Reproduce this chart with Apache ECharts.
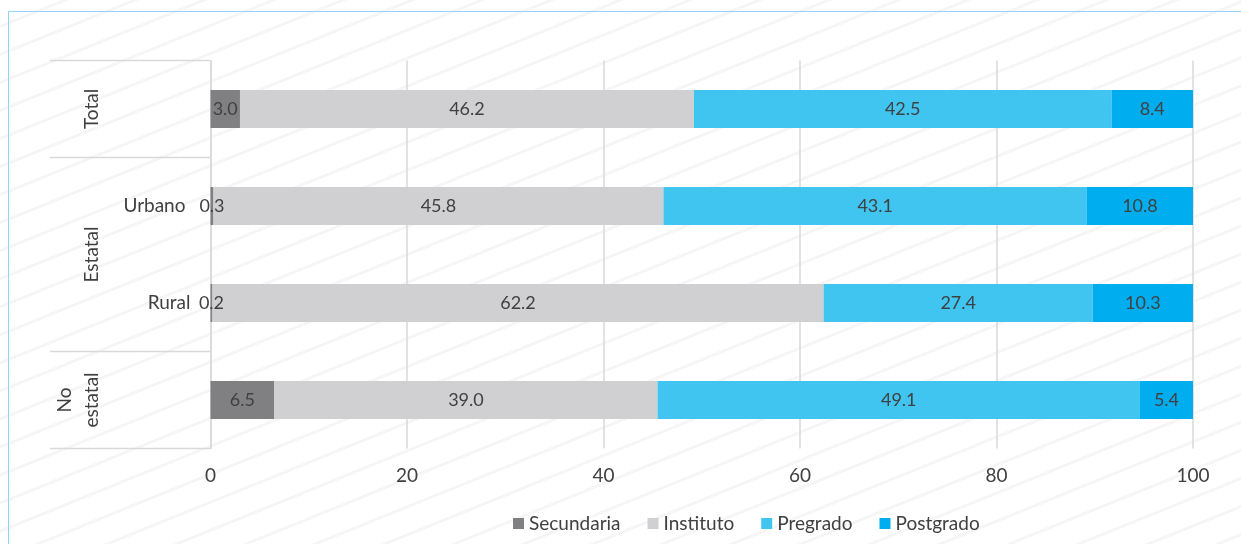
<!DOCTYPE html>
<html>
<head>
<meta charset="utf-8">
<script src="https://cdn.jsdelivr.net/npm/echarts@6/dist/echarts.min.js"></script>
<style>
html,body{margin:0;padding:0;background:#fff;}
#c{width:1241px;height:544px;background:repeating-linear-gradient(158deg, rgba(0,0,0,0) 0px, rgba(0,0,0,0) 23px, #f6f6f6 23px, #f6f6f6 26px);}
</style>
</head>
<body>
<div id="c"></div>
<script>
const categories = ['Total', 'Urbano', 'Rural', 'No estatal'];
const innerLabels = ['', 'Urbano', 'Rural', ''];
const groups = [
  {name: 'Total', from: 0, to: 0},
  {name: 'Estatal', from: 1, to: 2},
  {name: 'No\nestatal', from: 3, to: 3}
];
const seriesNames = ['Secundaria', 'Instituto', 'Pregrado', 'Postgrado'];
const secundaria = [3.0, 0.3, 0.2, 6.5];
const instituto = [46.2, 45.8, 62.2, 39.0];
const pregrado = [42.5, 43.1, 27.4, 49.1];
const postgrado = [8.4, 10.8, 10.3, 5.4];
const xTicks = [0, 20, 40, 60, 80, 100];
const colors = ['#808083', '#d0d0d2', '#40c5f1', '#00aeef'];

const FONT = 'Lato, "Open Sans", sans-serif';
const TXT = '#404040';
const chart = echarts.init(document.getElementById('c'), null, {renderer: 'canvas'});
const values = [secundaria, instituto, pregrado, postgrado];

const option = {
  animation: false,
  color: colors,
  textStyle: {fontFamily: FONT},
  grid: {left: 210.5, right: 48, top: 60.5, bottom: 95.5, containLabel: false},
  legend: {
    bottom: 6, left: 508,
    itemWidth: 11, itemHeight: 11, itemGap: 27,
    icon: 'rect',
    textStyle: {fontFamily: FONT, fontSize: 19, color: TXT},
    data: seriesNames
  },
  xAxis: {
    type: 'value', min: xTicks[0], max: xTicks[xTicks.length - 1], interval: 20,
    axisLine: {show: false}, axisTick: {show: false},
    axisLabel: {fontSize: 19, color: TXT, margin: 18, fontFamily: FONT},
    splitLine: {show: true, lineStyle: {color: '#d9d9d9', width: 1.5}}
  },
  yAxis: {
    type: 'category', data: categories, inverse: true,
    axisLine: {show: true, lineStyle: {color: '#d9d9d9', width: 1.5}},
    axisTick: {show: false},
    axisLabel: {
      fontSize: 19, color: TXT, margin: 20, fontFamily: FONT,
      formatter: function (v, i) {
        const t = innerLabels[i];
        if (!t) return '';
        return i === 1 ? '{u|' + t + '}' : t;
      },
      rich: {u: {fontSize: 19, color: TXT, fontFamily: FONT, padding: [0, 5, 0, 0]}}
    },
    splitLine: {show: false}
  },
  series: seriesNames.map((n, k) => ({
    name: n, type: 'bar', stack: 'total', barWidth: 38,
    data: values[k],
    label: {
      show: true, position: 'inside', fontSize: 18, color: TXT, fontFamily: FONT,
      formatter: p => p.value.toFixed(1)
    },
    labelLayout: {hideOverlap: false}
  }))
};
chart.setOption(option);

// hierarchical category decorations
const centers = categories.map(c => chart.convertToPixel({yAxisIndex: 0}, c));
const band = centers[1] - centers[0];
const x0 = chart.convertToPixel({xAxisIndex: 0}, 0);
const gfx = [];
gfx.push({type: 'rect', shape: {x: 8.5, y: 11.5, width: 1400, height: 700},
  style: {fill: null, stroke: '#8fd5f4', lineWidth: 1}, silent: true});
const bounds = new Set();
groups.forEach(g => {
  bounds.add(Math.round((centers[g.from] - band / 2) * 2) / 2);
  bounds.add(Math.round((centers[g.to] + band / 2) * 2) / 2);
});
bounds.forEach(y => {
  gfx.push({type: 'line', shape: {x1: 50, y1: y, x2: x0, y2: y},
    style: {stroke: '#d9d9d9', lineWidth: 1.5}, silent: true});
});
groups.forEach(g => {
  const cy = (centers[g.from] + centers[g.to]) / 2;
  const nLines = g.name.split('\n').length;
  const cx = 92 - (nLines - 1) * 13.5;
  gfx.push({type: 'text', x: cx, y: cy, rotation: Math.PI / 2,
    style: {text: g.name, fontSize: 19, fill: TXT, fontFamily: FONT,
      align: 'center', verticalAlign: 'middle', lineHeight: 27}, silent: true});
});
chart.setOption({graphic: gfx});
</script>
</body>
</html>
